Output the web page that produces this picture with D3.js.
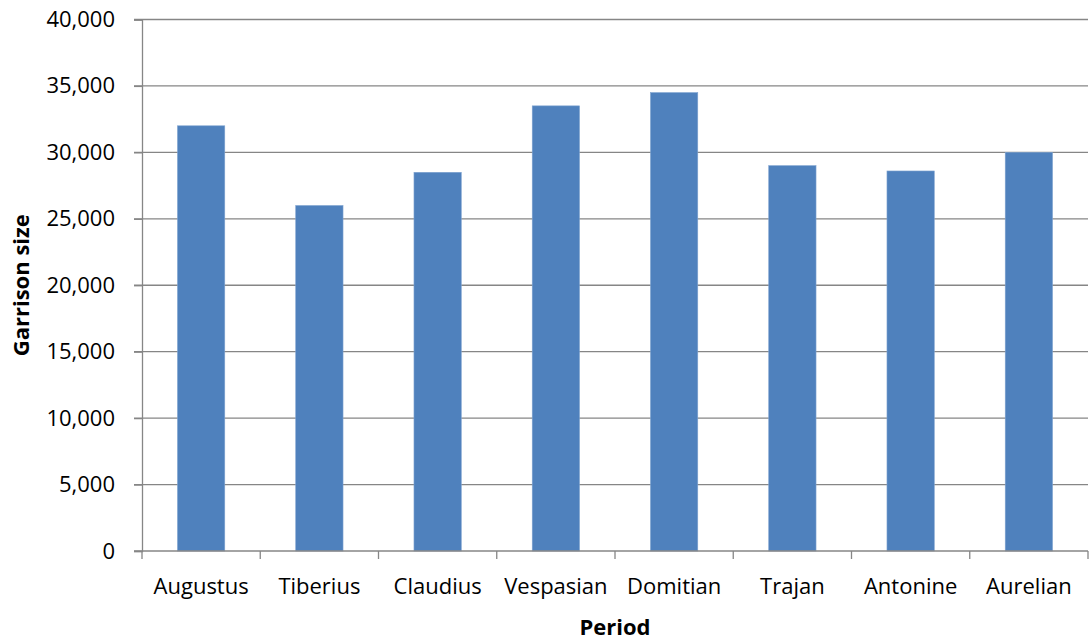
<!DOCTYPE html>
<html><head><meta charset="utf-8">
<script src="https://cdn.jsdelivr.net/npm/d3@7"></script>
<style>
body{margin:0;background:#fff;}
svg{display:block;font-family:"Open Sans",sans-serif;}
</style></head>
<body><svg id="c" width="1092" height="641"></svg>
<script>
const categories = ["Augustus","Tiberius","Claudius","Vespasian","Domitian","Trajan","Antonine","Aurelian"];
const garrison = [32000,26000,28500,33500,34500,29000,28600,30000];
const yTicks = [0,5000,10000,15000,20000,25000,30000,35000,40000];
const xTitle = "Period";
const yTitle = "Garrison size";

(function(){
const pL=142, pR=1088, pT=19.5, pB=551;
const svg=d3.select("#c");
const x=d3.scaleBand().domain(categories).range([pL,pR]).paddingInner(0.6).paddingOuter(0.3);
const xb=d3.scaleBand().domain(categories).range([pL,pR]);
const y=d3.scaleLinear().domain([0,40000]).range([pB,pT]);
const fmt=d3.format(",");

svg.append("g").selectAll("line").data(yTicks.filter(d=>d>0)).join("line")
 .attr("x1",pL-8).attr("x2",pR).attr("y1",d=>y(d)).attr("y2",d=>y(d))
 .attr("stroke","#868686").attr("stroke-width",1.3);

svg.append("g").selectAll("rect").data(categories).join("rect")
 .attr("x",d=>x(d)).attr("width",x.bandwidth())
 .attr("y",(d,i)=>y(garrison[i])).attr("height",(d,i)=>y(0)-y(garrison[i]))
 .attr("fill","#4F81BD").attr("stroke","#7fa3d0").attr("stroke-width",0.6);

const ya=svg.append("g").attr("transform",`translate(${pL},0)`)
 .call(d3.axisLeft(y).tickValues(yTicks).tickFormat(fmt).tickSize(8).tickPadding(19));
ya.select(".domain").attr("stroke","#868686").attr("stroke-width",1.3);
ya.selectAll(".tick line").attr("stroke","#868686").attr("stroke-width",1.3);
ya.selectAll("text").attr("font-family","Open Sans").attr("font-size",22).attr("fill","#000");

const xa=svg.append("g").attr("transform",`translate(0,${pB})`)
 .call(d3.axisBottom(xb).tickSize(0).tickPadding(27));
xa.select(".domain").attr("stroke","#868686").attr("stroke-width",1.3).attr("d",`M${pL-8},0H${pR}`);
xa.selectAll(".tick line").remove();
xa.selectAll("text").attr("font-family","Open Sans").attr("font-size",22).attr("fill","#000");
const bounds=categories.map(d=>xb(d)).concat([pR]);
svg.append("g").selectAll("line").data(bounds).join("line")
 .attr("x1",d=>d).attr("x2",d=>d)
 .attr("y1",pB).attr("y2",pB+8).attr("stroke","#868686").attr("stroke-width",1.3);

svg.append("text").attr("x",(pL+pR)/2).attr("y",635).attr("text-anchor","middle")
 .attr("font-weight","bold").attr("font-size",22).text(xTitle);
svg.append("text").attr("transform",`translate(29,${(pT+pB)/2}) rotate(-90)`).attr("text-anchor","middle")
 .attr("font-weight","bold").attr("font-size",22).text(yTitle);
})();
</script></body></html>
